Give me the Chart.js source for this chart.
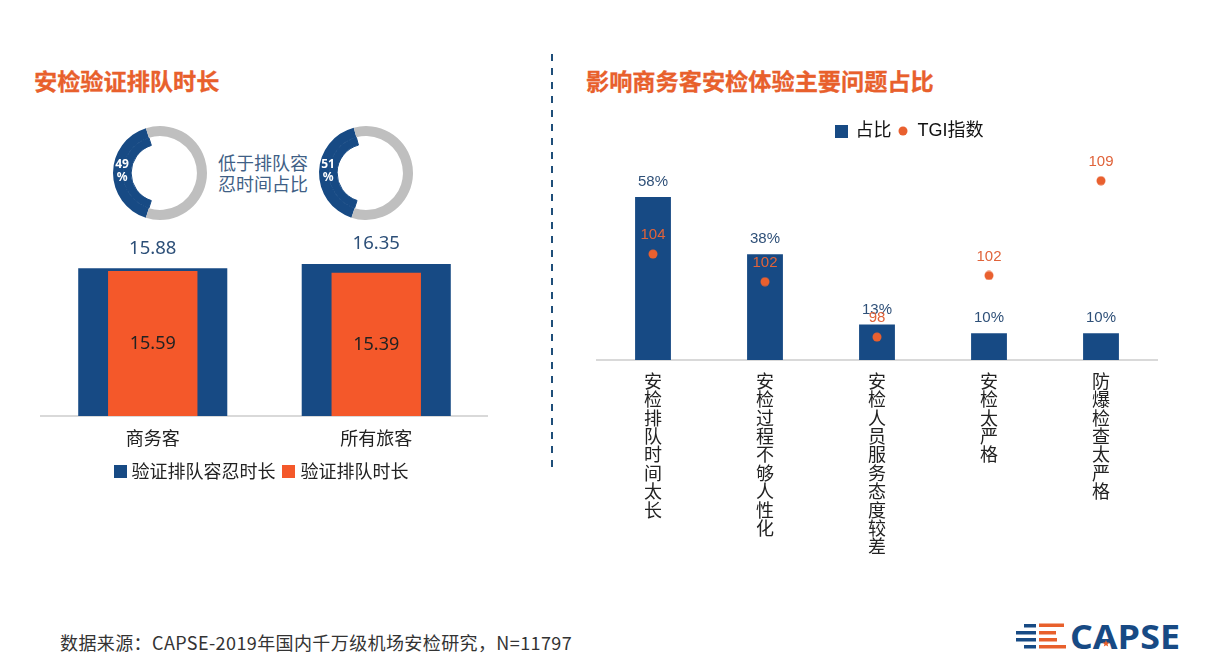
<!DOCTYPE html>
<html>
<head>
<meta charset="utf-8">
<script src="https://cdn.jsdelivr.net/npm/chart.js@4"></script>
<style>
body { margin: 0; background: #fff; width: 1230px; height: 669px; overflow: hidden; position: relative; font-family: "Noto Sans CJK SC", sans-serif; }
canvas, .txt { position: absolute; }
.title { color: #e8602c; font-size: 23.2px; font-weight: 700; line-height: 30px; white-space: nowrap; -webkit-text-stroke: 0.3px #e8602c; }
#divider { position: absolute; left: 551px; top: 54px; width: 2px; height: 414px;
  background: repeating-linear-gradient(to bottom, #1f4e79 0 7px, transparent 7px 14px); }
</style>
</head>
<body>
<div class="txt title" style="left:34px;top:65px">安检验证排队时长</div>
<div class="txt title" style="left:586px;top:65px">影响商务客安检体验主要问题占比</div>
<div id="divider"></div>
<div class="txt" style="left:218px;top:152px;color:#3f5f86;font-size:18px;line-height:21px;white-space:nowrap">低于排队容<br>忍时间占比</div>
<div class="txt" style="left:60px;top:630px;color:#333;font-size:18px;line-height:24px;letter-spacing:0.4px;white-space:nowrap">数据来源：CAPSE-2019年国内千万级机场安检研究，N=11797</div>

<canvas id="donutA" width="96" height="96" style="left:112px;top:125px"></canvas>
<canvas id="donutB" width="96" height="96" style="left:318px;top:125px"></canvas>
<canvas id="queueChart" width="450" height="260" style="left:38px;top:230px"></canvas>
<canvas id="issueChart" width="637" height="444" style="left:591px;top:116px"></canvas>

<svg class="txt" style="left:1010px;top:615px" width="180" height="42" viewBox="1010 615 180 42">
  <g fill="#174a84">
    <rect x="1024" y="624" width="12" height="3.5"/>
    <rect x="1016" y="631" width="20" height="3.5"/>
    <rect x="1016" y="638" width="20" height="3.5"/>
    <rect x="1024" y="645" width="12" height="3.5"/>
  </g>
  <g fill="#e8602c">
    <rect x="1039" y="623.5" width="25" height="3.5"/>
    <rect x="1039" y="631" width="17" height="3.5"/>
    <rect x="1039" y="638" width="18" height="3.5"/>
    <rect x="1039" y="645" width="27" height="3.5"/>
  </g>
  <text x="1070" y="649" fill="#174a84" font-family="Open Sans" font-weight="700" font-size="34" textLength="110" lengthAdjust="spacingAndGlyphs">CAPSE</text>
  <polygon fill="#e8602c" points="1106,640 1107,642.4 1109.4,642.6 1107.6,644.2 1108.2,646.6 1106,645.3 1103.8,646.6 1104.4,644.2 1102.6,642.6 1105,642.4"/>
</svg>

<script>
const queueGroups = ["商务客", "所有旅客"];
const toleranceTime = [15.88, 16.35];
const queueTime = [15.59, 15.39];

const donutLabels = ["49%", "51%"];
const donutArc = [40.3, 40.8];   // arc share as drawn
const donutStart = [197.5, 198];

const issueNames = ["安检排队时间太长", "安检过程不够人性化", "安检人员服务态度较差", "安检太严格", "防爆检查太严格"];
const issueShare = [58, 37.6, 12.6, 9.5, 9.5];
const tgiIndex = [104, 102, 98, 102.45, 109.3];

const BLUE = "#174a84";
const ORANGE = "#f4582a";
const DOT = "#e9602f";
const LATIN = '"Liberation Sans", "Noto Sans CJK SC"';
const CJK = '"Noto Sans CJK SC"';

Chart.defaults.animation = false;
Chart.defaults.responsive = false;
Chart.defaults.plugins.tooltip.enabled = false;

function drawText(ctx, text, x, y, font, color) {
    ctx.save();
    ctx.font = font;
    ctx.fillStyle = color;
    ctx.textAlign = "center";
    ctx.textBaseline = "middle";
    ctx.fillText(text, x, y);
    ctx.restore();
}

// legend marks at their own pixel size
function markSprite(size, color, round) {
    const c = document.createElement("canvas");
    c.width = c.height = size;
    const g = c.getContext("2d");
    g.fillStyle = color;
    if (round) {
        g.arc(size / 2, size / 2, size / 2 - 0.5, 0, Math.PI * 2);
        g.fill();
    } else {
        g.fillRect(0, 0, size, size);
    }
    return c;
}

function makeDonut(id, i) {
    new Chart(document.getElementById(id), {
        type: "doughnut",
        data: {
            datasets: [
                { data: [donutArc[i], 100 - donutArc[i]], backgroundColor: [BLUE, "#bfbfbf"], borderWidth: 0, weight: 10 },
                { data: [donutArc[i], 100 - donutArc[i]], backgroundColor: [BLUE, "transparent"], borderColor: BLUE, borderWidth: [1, 0], weight: 8 }
            ]
        },
        options: {
            cutout: "61.5%",
            rotation: donutStart[i],
            layout: { padding: 1 },
            plugins: { legend: { display: false } }
        },
        plugins: [{
            id: "donutLabel",
            afterDatasetsDraw(chart) {
                const outer = chart.getDatasetMeta(0).data[0];
                const inner = chart.getDatasetMeta(1).data[0];
                const x = outer.x - (outer.outerRadius + inner.innerRadius) / 2;
                const font = 'bold 12px "Noto Sans"';
                drawText(chart.ctx, donutLabels[i].replace("%", ""), x, outer.y - 8, font, "#fff");
                drawText(chart.ctx, "%", x, outer.y + 5, font, "#fff");
            }
        }]
    });
}
makeDonut("donutA", 0);
makeDonut("donutB", 1);

new Chart(document.getElementById("queueChart"), {
    type: "bar",
    data: {
        labels: queueGroups,
        datasets: [
            { label: "验证排队容忍时长", data: toleranceTime, backgroundColor: BLUE, pointStyle: markSprite(13, BLUE), barPercentage: 0.667, categoryPercentage: 1, order: 2 },
            { label: "验证排队时长", data: queueTime, backgroundColor: ORANGE, pointStyle: markSprite(13, ORANGE), barPercentage: 0.4, categoryPercentage: 1, order: 1 }
        ]
    },
    options: {
        scales: {
            x: {
                grid: { display: false },
                border: { color: "#d9d9d9", width: 2 },
                ticks: { color: "#222", font: { family: CJK, size: 18 }, padding: 3 },
                afterFit(scale) { scale.height = 35; }
            },
            y: {
                position: "left",
                min: 0,
                max: 20,
                grid: { display: false },
                border: { display: false },
                ticks: { display: false },
                afterFit(scale) { scale.width = 3; }
            }
        },
        datasets: { bar: { grouped: false } },
        plugins: {
            legend: {
                position: "bottom",
                labels: {
                    color: "#222",
                    font: { family: CJK, size: 18 },
                    usePointStyle: true,
                    pointStyleWidth: 5,
                    boxHeight: 13,
                    padding: 11,
                    sort: (a, b) => a.datasetIndex - b.datasetIndex
                }
            }
        }
    },
    plugins: [{
        id: "queueLabels",
        afterDatasetsDraw(chart) {
            const ctx = chart.ctx;
            chart.getDatasetMeta(0).data.forEach((bar, i) => {
                drawText(ctx, toleranceTime[i].toFixed(2), bar.x, bar.y - 20, '18.5px "Noto Sans"', "#2c4f78");
            });
            chart.getDatasetMeta(1).data.forEach((bar, i) => {
                drawText(ctx, queueTime[i].toFixed(2), bar.x, (bar.y + bar.base) / 2, '18px "Noto Sans"', "#222");
            });
        }
    }]
});

new Chart(document.getElementById("issueChart"), {
    type: "bar",
    data: {
        labels: issueNames,
        datasets: [
            { type: "bar", label: "占比", data: issueShare, backgroundColor: BLUE, pointStyle: markSprite(13, BLUE), barPercentage: 0.32, categoryPercentage: 1, yAxisID: "y", order: 2 },
            { type: "line", label: "TGI指数", data: tgiIndex, showLine: false, backgroundColor: DOT, borderColor: DOT, pointStyle: markSprite(10, DOT, true), pointRadius: 5, yAxisID: "y1", order: 1 }
        ]
    },
    options: {
        scales: {
            x: {
                grid: { display: false },
                border: { color: "#d9d9d9", width: 2 },
                ticks: {
                    color: "#222",
                    maxRotation: 0,
                    autoSkip: false,
                    padding: 4,
                    font: { family: CJK, size: 18, lineHeight: 1.02 },
                    callback(value) { return Array.from(this.getLabelForValue(value)); }
                },
                afterFit(scale) { scale.height = 200; }
            },
            y: { display: false, min: 0, max: 74.7 },
            y1: {
                position: "right",
                min: 96.34,
                max: 111.52,
                grid: { display: false },
                border: { display: false },
                ticks: { display: false },
                afterFit(scale) { scale.width = 71; }
            }
        },
        plugins: {
            legend: {
                position: "top",
                labels: {
                    color: "#111",
                    font: { family: LATIN, size: 18 },
                    usePointStyle: true,
                    pointStyleWidth: 11,
                    boxHeight: 13,
                    padding: 6,
                    sort: (a, b) => a.datasetIndex - b.datasetIndex
                }
            }
        }
    },
    plugins: [{
        id: "issueLabels",
        afterDatasetsDraw(chart) {
            const ctx = chart.ctx;
            const font = "15px " + LATIN;
            chart.getDatasetMeta(0).data.forEach((bar, i) => {
                drawText(ctx, Math.round(issueShare[i]) + "%", bar.x, bar.y - 15, font, "#2f5078");
            });
            chart.getDatasetMeta(1).data.forEach((pt, i) => {
                drawText(ctx, Math.round(tgiIndex[i]).toString(), pt.x, pt.y - 19, font, "#e0633a");
            });
        }
    }]
});
</script>
</body>
</html>
